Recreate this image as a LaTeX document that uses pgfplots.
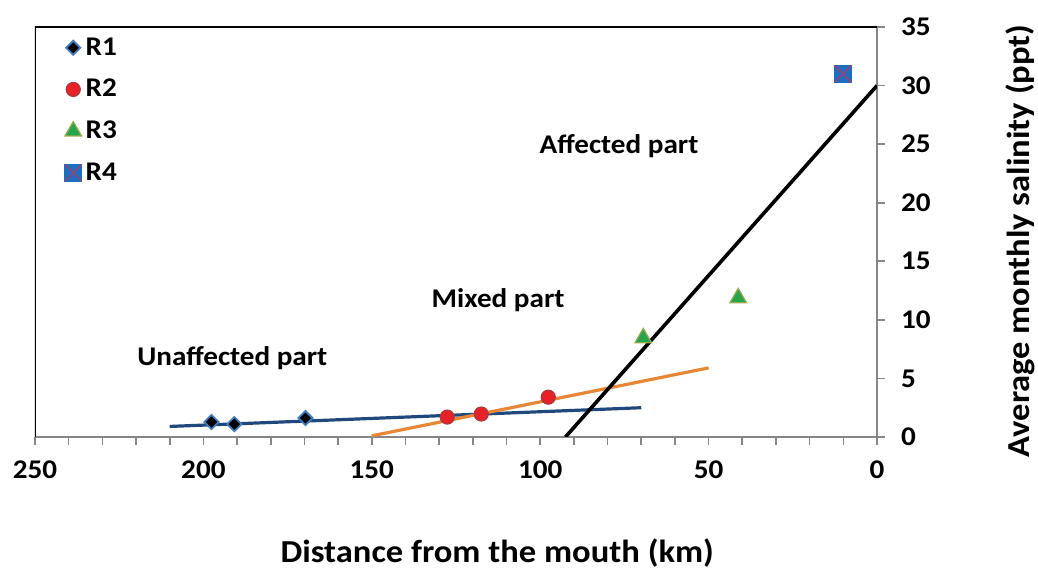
\documentclass[border=0pt]{standalone}
\usepackage{fontspec}
\setmainfont{Carlito}[FakeStretch=1.08]
\usepackage{pgfplots}
\pgfplotsset{compat=1.18}

\definecolor{axisgray}{RGB}{134,134,134}
\definecolor{blueline}{RGB}{31,73,125}
\definecolor{orangeline}{RGB}{230,135,55}
\definecolor{rOneEdge}{RGB}{65,125,190}
\definecolor{rTwoFill}{RGB}{232,32,40}
\definecolor{rTwoEdge}{RGB}{170,60,60}
\definecolor{rThreeFill}{RGB}{40,165,75}
\definecolor{rThreeEdge}{RGB}{150,170,80}
\definecolor{rFourFill}{RGB}{30,110,190}
\definecolor{rFourX}{RGB}{140,70,130}

\newcommand{\lblfont}{\bfseries\fontsize{13.5}{15}\selectfont}

\pgfplotsset{
  mark legend/.style={legend image code/.code={\draw[##1] plot coordinates {(0cm,0cm)};}},
  rfour legend/.style={legend image code/.code={
    \draw[##1] plot coordinates {(0cm,0cm)};
    \draw[only marks, mark=x, mark size=5.9pt, mark options={draw=rFourX, line width=0.8pt}] plot coordinates {(0cm,0cm)};}},
}

\begin{document}
\begin{tikzpicture}
\begin{axis}[
  at={(0pt,0pt)}, anchor=south west,
  scale only axis, width=421pt, height=205pt,
  x dir=reverse,
  xmin=0, xmax=250, ymin=0, ymax=35,
  axis x line*=bottom, axis y line*=right,
  axis line style={draw=axisgray, line width=1.2pt, -},
  xtick={0,50,...,250}, ytick={0,5,...,35},
  minor x tick num=4,
  tick align=outside,
  major tick length=4pt, minor tick length=4pt,
  tick style={draw=axisgray, line width=0.8pt},
  ticklabel style={font=\lblfont},
  xticklabel style={yshift=-4.5pt},
  yticklabel style={xshift=4.5pt},
  /pgf/number format/assume math mode=true,
  xlabel={Distance from the mouth (km)},
  xlabel style={at={(axis description cs:0.549,-0.283)}, anchor=center,
    font=\bfseries\fontsize{16}{18}\selectfont},
  ylabel={Average monthly salinity (ppt)},
  ylabel style={at={(axis description cs:1.17,0.478)}, anchor=center,
    font=\bfseries\fontsize{16}{18}\selectfont},
  legend style={draw=none, fill=none, at={(axis description cs:0.035,0.985)},
    anchor=north west, font=\lblfont, row sep=6.5pt, inner sep=0pt},
  legend cell align=left,
  mark legend,
]

% frame on the open sides
\draw[black, line width=0.7pt] (axis description cs:0,0) -- (axis description cs:0,1) -- (axis description cs:1,1);

% trend lines
\addplot[blueline, line width=1.6pt, forget plot] coordinates {(210,0.9) (70,2.5)};
\addplot[orangeline, line width=1.6pt, forget plot] coordinates {(150,0.1) (50,5.9)};
\addplot[black, line width=1.8pt, forget plot] coordinates {(92.5,0) (0,30)};

% stations
\addplot[only marks, mark=square*, mark size=2.5pt,
  mark options={rotate=45, fill=black, draw=rOneEdge, line width=0.9pt}]
  coordinates {(197.6,1.28) (190.8,1.1) (169.7,1.62)};
\addlegendentry{R1}
\addplot[only marks, mark=*, mark size=3.5pt,
  mark options={fill=rTwoFill, draw=rTwoEdge, line width=0.6pt}]
  coordinates {(127.6,1.7) (117.5,1.96) (97.6,3.4)};
\addlegendentry{R2}
\addplot[only marks, mark=triangle*, mark size=4.8pt,
  mark options={fill=rThreeFill, draw=rThreeEdge, line width=0.6pt}]
  coordinates {(69.4,8.45) (41.2,11.87)};
\addlegendentry{R3}
\addplot[only marks, mark=square*, mark size=4.2pt,
  mark options={fill=rFourFill, draw=rFourFill}, rfour legend]
  coordinates {(10.1,31.0)};
\addlegendentry{R4}
\addplot[only marks, mark=x, mark size=5.9pt,
  mark options={draw=rFourX, line width=0.8pt}, forget plot]
  coordinates {(10.1,31.0)};

\node[font=\lblfont] at (axis cs:76.6,24.8) {Affected part};
\node[font=\lblfont] at (axis cs:112.5,11.7) {Mixed part};
\node[font=\lblfont] at (axis cs:191.4,6.75) {Unaffected part};
\end{axis}
\pgfresetboundingbox
\path[use as bounding box] (-17.5pt,-67pt) rectangle (501.5pt,218.5pt);
\end{tikzpicture}
\end{document}
